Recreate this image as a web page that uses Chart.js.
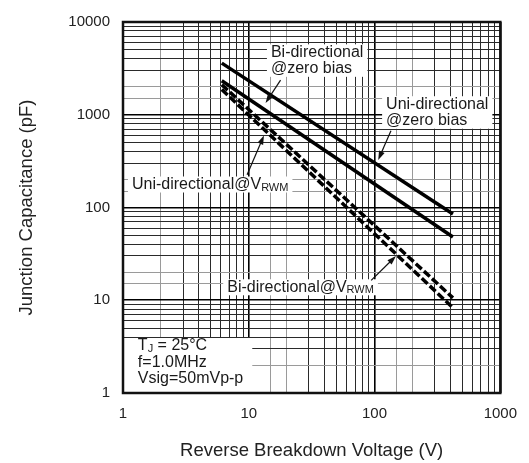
<!DOCTYPE html>
<html lang="en">
	<head>
		<meta charset="UTF-8" />
		<title>Junction Capacitance vs Reverse Breakdown Voltage</title>
		<script src="https://cdn.jsdelivr.net/npm/chart.js"></script>
		<style>
			body {
				margin: 0;
				background: #fff;
			}
		</style>
	</head>
	<body>
		<canvas id="capChart" width="529" height="463"></canvas>

		<script>
			// Values (log-log straight lines, end points)
			const voltage = [6.1, 420];
			const uniZeroBias = [3600, 85];
			const biZeroBias = [2330, 48];
			const uniVrwm = [2110, 10.6];
			const biVrwm = [1870, 8.3];

			const xTickLabels = [1, 10, 100, 1000];
			const yTickLabels = [1, 10, 100, 1000, 10000];

			const FONT = "'Liberation Sans', Arial, sans-serif";
			const TEXT_PX = 16;
			const SUB_PX = 11;

			// annotation texts, anchored in data coordinates (left edge, middle of first line)
			const notes = [
				{ x: 15.0, y: 4710, lines: [[{ t: "Bi-directional" }], [{ t: "@zero bias" }]] },
				{ x: 123.6, y: 1299, lines: [[{ t: "Uni-directional" }], [{ t: "@zero bias" }]] },
				{ x: 1.178, y: 177, lines: [[{ t: "Uni-directional@V" }, { t: "RWM", sub: true }]] },
				{ x: 6.74, y: 13.8, lines: [[{ t: "Bi-directional@V" }, { t: "RWM", sub: true }]] },
				{
					x: 1.313,
					y: 3.21,
					corner: true,
					lines: [
						[{ t: "T" }, { t: "J", sub: true }, { t: " = 25°C" }],
						[{ t: "f=1.0MHz" }],
						[{ t: "Vsig=50mVp-p" }],
					],
				},
			];

			// arrows: [fromX, fromY, tipX, tipY] in data coordinates
			const arrows = [
				[17.9, 2366, 13.6, 1340],
				[135, 674, 107, 325],
				[9.7, 226, 13.2, 597],
				[94, 16.4, 148, 30],
			];

			function mant(v) {
				const e = Math.floor(Math.log10(v) + 1e-9);
				return Math.round(v / Math.pow(10, e));
			}

			function gridColor(ctx) {
				if (!ctx.tick) return "#333";
				const m = mant(ctx.tick.value);
				if (m === 1) return "#000";
				if (m === 2) return "#9a9a9a";
				return "#2a2a2a";
			}

			function gridWidth(ctx) {
				if (!ctx.tick) return 1;
				return mant(ctx.tick.value) === 1 ? 1.6 : 1;
			}

			function pts(ys) {
				return voltage.map((v, i) => ({ x: v, y: ys[i] }));
			}

			function fontFor(s) {
				return (s.sub ? SUB_PX : TEXT_PX) + "px " + FONT;
			}

			function lineWidthOf(ctx, line) {
				let w = 0;
				line.forEach((s) => {
					ctx.font = fontFor(s);
					w += ctx.measureText(s.t).width;
				});
				return w;
			}

			const LINE_H = 16.5;

			const notesPlugin = {
				id: "notes",
				beforeDatasetsDraw(chart) {
					const ctx = chart.ctx;
					const xs = chart.scales.x;
					const ys = chart.scales.y;
					const area = chart.chartArea;
					ctx.save();
					notes.forEach((n) => {
						const px = xs.getPixelForValue(n.x);
						const py = ys.getPixelForValue(n.y);
						let w = 0;
						n.lines.forEach((l) => (w = Math.max(w, lineWidthOf(ctx, l))));
						const lastY = py + (n.lines.length - 1) * LINE_H;
						ctx.fillStyle = "#fff";
						if (n.corner) {
							ctx.fillRect(area.left + 1, py - 8, px + w + 8 - area.left, area.bottom - (py - 8) - 1);
						} else {
							ctx.fillRect(px - 4, py - 8, w + 8, lastY + 8 - (py - 8));
						}
						ctx.fillStyle = "#1a1a1a";
						ctx.textBaseline = "middle";
						n.lines.forEach((l, i) => {
							let cx = px;
							const cy = py + i * LINE_H;
							l.forEach((s) => {
								ctx.font = fontFor(s);
								ctx.fillText(s.t, cx, s.sub ? cy + 3 : cy);
								cx += ctx.measureText(s.t).width;
							});
						});
					});
					ctx.restore();
				},
				afterDatasetsDraw(chart) {
					const ctx = chart.ctx;
					const xs = chart.scales.x;
					const ys = chart.scales.y;
					const area = chart.chartArea;
					ctx.save();
					ctx.strokeStyle = "#111";
					ctx.fillStyle = "#111";
					ctx.lineWidth = 1.2;
					arrows.forEach((a) => {
						const x1 = xs.getPixelForValue(a[0]);
						const y1 = ys.getPixelForValue(a[1]);
						const x2 = xs.getPixelForValue(a[2]);
						const y2 = ys.getPixelForValue(a[3]);
						const ang = Math.atan2(y2 - y1, x2 - x1);
						ctx.beginPath();
						ctx.moveTo(x1, y1);
						ctx.lineTo(x2 - 6 * Math.cos(ang), y2 - 6 * Math.sin(ang));
						ctx.stroke();
						ctx.beginPath();
						ctx.moveTo(x2, y2);
						ctx.lineTo(x2 - 9 * Math.cos(ang) + 3 * Math.sin(ang), y2 - 9 * Math.sin(ang) - 3 * Math.cos(ang));
						ctx.lineTo(x2 - 9 * Math.cos(ang) - 3 * Math.sin(ang), y2 - 9 * Math.sin(ang) + 3 * Math.cos(ang));
						ctx.closePath();
						ctx.fill();
					});
					// plot frame
					ctx.strokeStyle = "#111";
					ctx.lineWidth = 2.5;
					ctx.strokeRect(area.left, area.top, area.right - area.left, area.bottom - area.top);
					ctx.restore();
				},
			};

			const lineStyle = {
				showLine: true,
				borderColor: "#000",
				borderWidth: 3.5,
				pointRadius: 0,
				fill: false,
			};

			new Chart(document.getElementById("capChart").getContext("2d"), {
				type: "scatter",
				data: {
					datasets: [
						{ ...lineStyle, label: "Uni-directional @zero bias", data: pts(uniZeroBias) },
						{ ...lineStyle, label: "Bi-directional @zero bias", data: pts(biZeroBias) },
						{ ...lineStyle, label: "Uni-directional@VRWM", data: pts(uniVrwm), borderDash: [8, 3] },
						{ ...lineStyle, label: "Bi-directional@VRWM", data: pts(biVrwm), borderDash: [8, 3] },
					],
				},
				options: {
					responsive: false,
					animation: false,
					devicePixelRatio: 1,
					layout: { padding: { top: 14, right: 26, left: 0, bottom: 0 } },
					plugins: {
						legend: { display: false },
						tooltip: { enabled: false },
					},
					scales: {
						x: {
							type: "logarithmic",
							min: 1,
							max: 1000,
							afterFit: (s) => (s.height = 70),
							grid: { color: gridColor, lineWidth: gridWidth, drawTicks: false },
							border: { display: false },
							ticks: {
								autoSkip: false,
								maxRotation: 0,
								padding: 12,
								color: "#222",
								font: { family: FONT, size: 15 },
								callback: (v) => (xTickLabels.includes(v) ? String(v) : ""),
							},
							title: {
								display: true,
								text: "Reverse Breakdown Voltage (V)",
								color: "#222",
								font: { family: FONT, size: 18.5 },
								padding: { top: 0, bottom: 1 },
							},
						},
						y: {
							type: "logarithmic",
							min: 1,
							max: 10000,
							afterFit: (s) => (s.width = 123),
							grid: { color: gridColor, lineWidth: gridWidth, drawTicks: false },
							border: { display: false },
							ticks: {
								autoSkip: false,
								padding: 13,
								color: "#222",
								font: { family: FONT, size: 15 },
								callback: (v) => (yTickLabels.includes(v) ? String(v) : ""),
							},
							title: {
								display: true,
								text: "Junction Capacitance (pF)",
								color: "#222",
								font: { family: FONT, size: 18.5 },
								padding: { top: 16, bottom: 16 },
							},
						},
					},
				},
				plugins: [notesPlugin],
			});
		</script>
	</body>
</html>
